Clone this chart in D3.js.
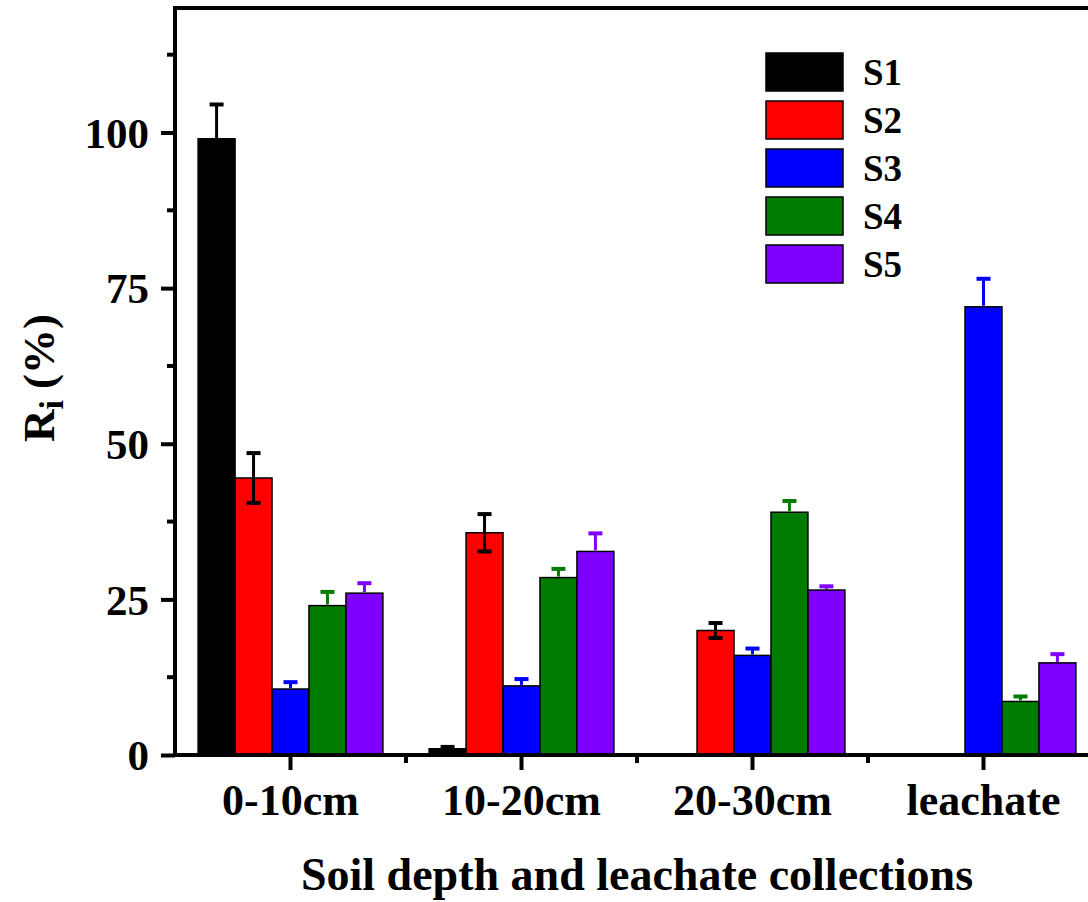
<!DOCTYPE html>
<html>
<head>
<meta charset="utf-8">
<script src="https://cdn.jsdelivr.net/npm/d3@7"></script>
<style>
  body { margin: 0; background: #fff; }
  svg { display: block; font-family: "Liberation Serif", "Times New Roman", serif; font-weight: bold; }
</style>
</head>
<body>
<div id="chart"></div>
<script>
const categories = ['0-10cm', '10-20cm', '20-30cm', 'leachate'];
const seriesNames = ['S1', 'S2', 'S3', 'S4', 'S5'];
const seriesColors = ['#000000', '#ff0000', '#0000ff', '#007c00', '#7f00ff'];
// values per series, one per category
const S1 = [99.0, 1.0, 0, 0];
const S2 = [44.5, 35.7, 20.0, 0];
const S3 = [10.6, 11.1, 16.0, 72.0];
const S4 = [24.0, 28.5, 39.0, 8.6];
const S5 = [26.0, 32.7, 26.5, 14.8];
const S1err = [5.5, 0.3, 0, 0];
const S2err = [4.0, 3.0, 1.2, 0];
const S3err = [1.1, 1.1, 1.1, 4.5];
const S4err = [2.2, 1.4, 1.8, 0.8];
const S5err = [1.6, 2.9, 0.6, 1.4];
const yTicks = [0, 25, 50, 75, 100];

const values = [S1, S2, S3, S4, S5];
const errors = [S1err, S2err, S3err, S4err, S5err];
// error bar colour: black for S1/S2, own colour for the rest
const errColors = ['#000000', '#000000', '#0000ff', '#007c00', '#7f00ff'];

const width = 1088, height = 902;
const margin = {top: 8, left: 175, right: -11, bottom: 147};
const serif = '"Liberation Serif", "Times New Roman", serif';

const svg = d3.select('#chart').append('svg')
    .attr('width', width)
    .attr('height', height);

const x0 = d3.scaleBand()
    .domain(categories)
    .range([margin.left, width - margin.right])
    .paddingInner(0.2)
    .paddingOuter(0.1);

const x1 = d3.scaleBand()
    .domain(seriesNames)
    .range([0, x0.bandwidth()]);

const y = d3.scaleLinear()
    .domain([0, 120])
    .range([height - margin.bottom, margin.top]);

const rows = [];
seriesNames.forEach((s, i) => {
    categories.forEach((c, j) => {
        if (values[i][j] > 0) rows.push({s, i, c, v: values[i][j], e: errors[i][j]});
    });
});

// bars
svg.append('g').selectAll('rect')
    .data(rows)
    .enter()
    .append('rect')
    .attr('x', d => x0(d.c) + x1(d.s))
    .attr('y', d => y(d.v))
    .attr('width', x1.bandwidth())
    .attr('height', d => y(0) - y(d.v))
    .attr('fill', d => seriesColors[d.i])
    .attr('stroke', '#000')
    .attr('stroke-width', 1.5);

// error bars
const eb = svg.append('g').selectAll('g')
    .data(rows.filter(d => d.e > 0))
    .enter()
    .append('g')
    .attr('stroke', d => errColors[d.i]);

const cx = d => x0(d.c) + x1(d.s) + x1.bandwidth() / 2;
const both = d => d.i < 2;

eb.append('line')
    .attr('x1', cx).attr('x2', cx)
    .attr('y1', d => y(d.v + d.e))
    .attr('y2', d => both(d) ? y(d.v - d.e) : y(d.v) - 1)
    .attr('stroke-width', 3);
eb.append('line')
    .attr('x1', d => cx(d) - 7).attr('x2', d => cx(d) + 7)
    .attr('y1', d => y(d.v + d.e)).attr('y2', d => y(d.v + d.e))
    .attr('stroke-width', 4);
eb.filter(both).append('line')
    .attr('x1', d => cx(d) - 7).attr('x2', d => cx(d) + 7)
    .attr('y1', d => y(d.v - d.e)).attr('y2', d => y(d.v - d.e))
    .attr('stroke-width', 4);

// y axis
const yAxis = svg.append('g')
    .attr('transform', `translate(${margin.left},0)`)
    .call(d3.axisLeft(y).tickValues(yTicks).tickSize(14).tickPadding(12));
yAxis.attr('font-family', serif).attr('font-size', 43);
yAxis.select('.domain').remove();
yAxis.selectAll('.tick line').attr('stroke-width', 4);
yAxis.selectAll('.tick text').attr('fill', '#000').attr('dy', '0.34em');

svg.append('g')
    .attr('transform', `translate(${margin.left},0)`)
    .selectAll('line')
    .data(d3.range(12.5, 120, 25))
    .enter()
    .append('line')
    .attr('x1', -8).attr('x2', 0)
    .attr('y1', d => y(d)).attr('y2', d => y(d))
    .attr('stroke', '#000').attr('stroke-width', 4);

// x axis
const xAxis = svg.append('g')
    .attr('transform', `translate(0,${y(0)})`)
    .call(d3.axisBottom(x0).tickSize(15).tickPadding(14));
xAxis.attr('font-family', serif).attr('font-size', 44);
xAxis.select('.domain').remove();
xAxis.selectAll('.tick line').attr('stroke-width', 4);
xAxis.selectAll('.tick text').attr('fill', '#000');

const step = x0.step();
svg.append('g').selectAll('line')
    .data(categories.slice(1))
    .enter()
    .append('line')
    .attr('x1', d => x0(d) - (step - x0.bandwidth()) / 2)
    .attr('x2', d => x0(d) - (step - x0.bandwidth()) / 2)
    .attr('y1', y(0)).attr('y2', y(0) + 8)
    .attr('stroke', '#000').attr('stroke-width', 4);

// frame
svg.append('path')
    .attr('d', `M${margin.left},${y(0)}V${margin.top}H${width + 20}M${margin.left - 2},${y(0)}H${width + 20}`)
    .attr('fill', 'none')
    .attr('stroke', '#000')
    .attr('stroke-width', 4);

// axis titles
svg.append('text')
    .attr('x', 637).attr('y', 890)
    .attr('text-anchor', 'middle')
    .attr('font-size', 46)
    .text('Soil depth and leachate collections');

const yl = svg.append('text')
    .attr('transform', 'translate(54,378) rotate(-90)')
    .attr('text-anchor', 'middle')
    .attr('font-size', 45);
yl.append('tspan').text('R');
yl.append('tspan').attr('font-size', 34).attr('dy', 9).text('i');
yl.append('tspan').attr('dy', -9).text(' (%)');

// legend
const legend = svg.append('g')
    .selectAll('g')
    .data(seriesNames)
    .enter()
    .append('g')
    .attr('transform', (d, i) => `translate(766,${53 + i * 48})`);
legend.append('rect')
    .attr('width', 77).attr('height', 38)
    .attr('fill', (d, i) => seriesColors[i])
    .attr('stroke', '#000').attr('stroke-width', 1.5);
legend.append('text')
    .attr('x', 97).attr('y', 32)
    .attr('font-size', 37)
    .text(d => d);
</script>
</body>
</html>
